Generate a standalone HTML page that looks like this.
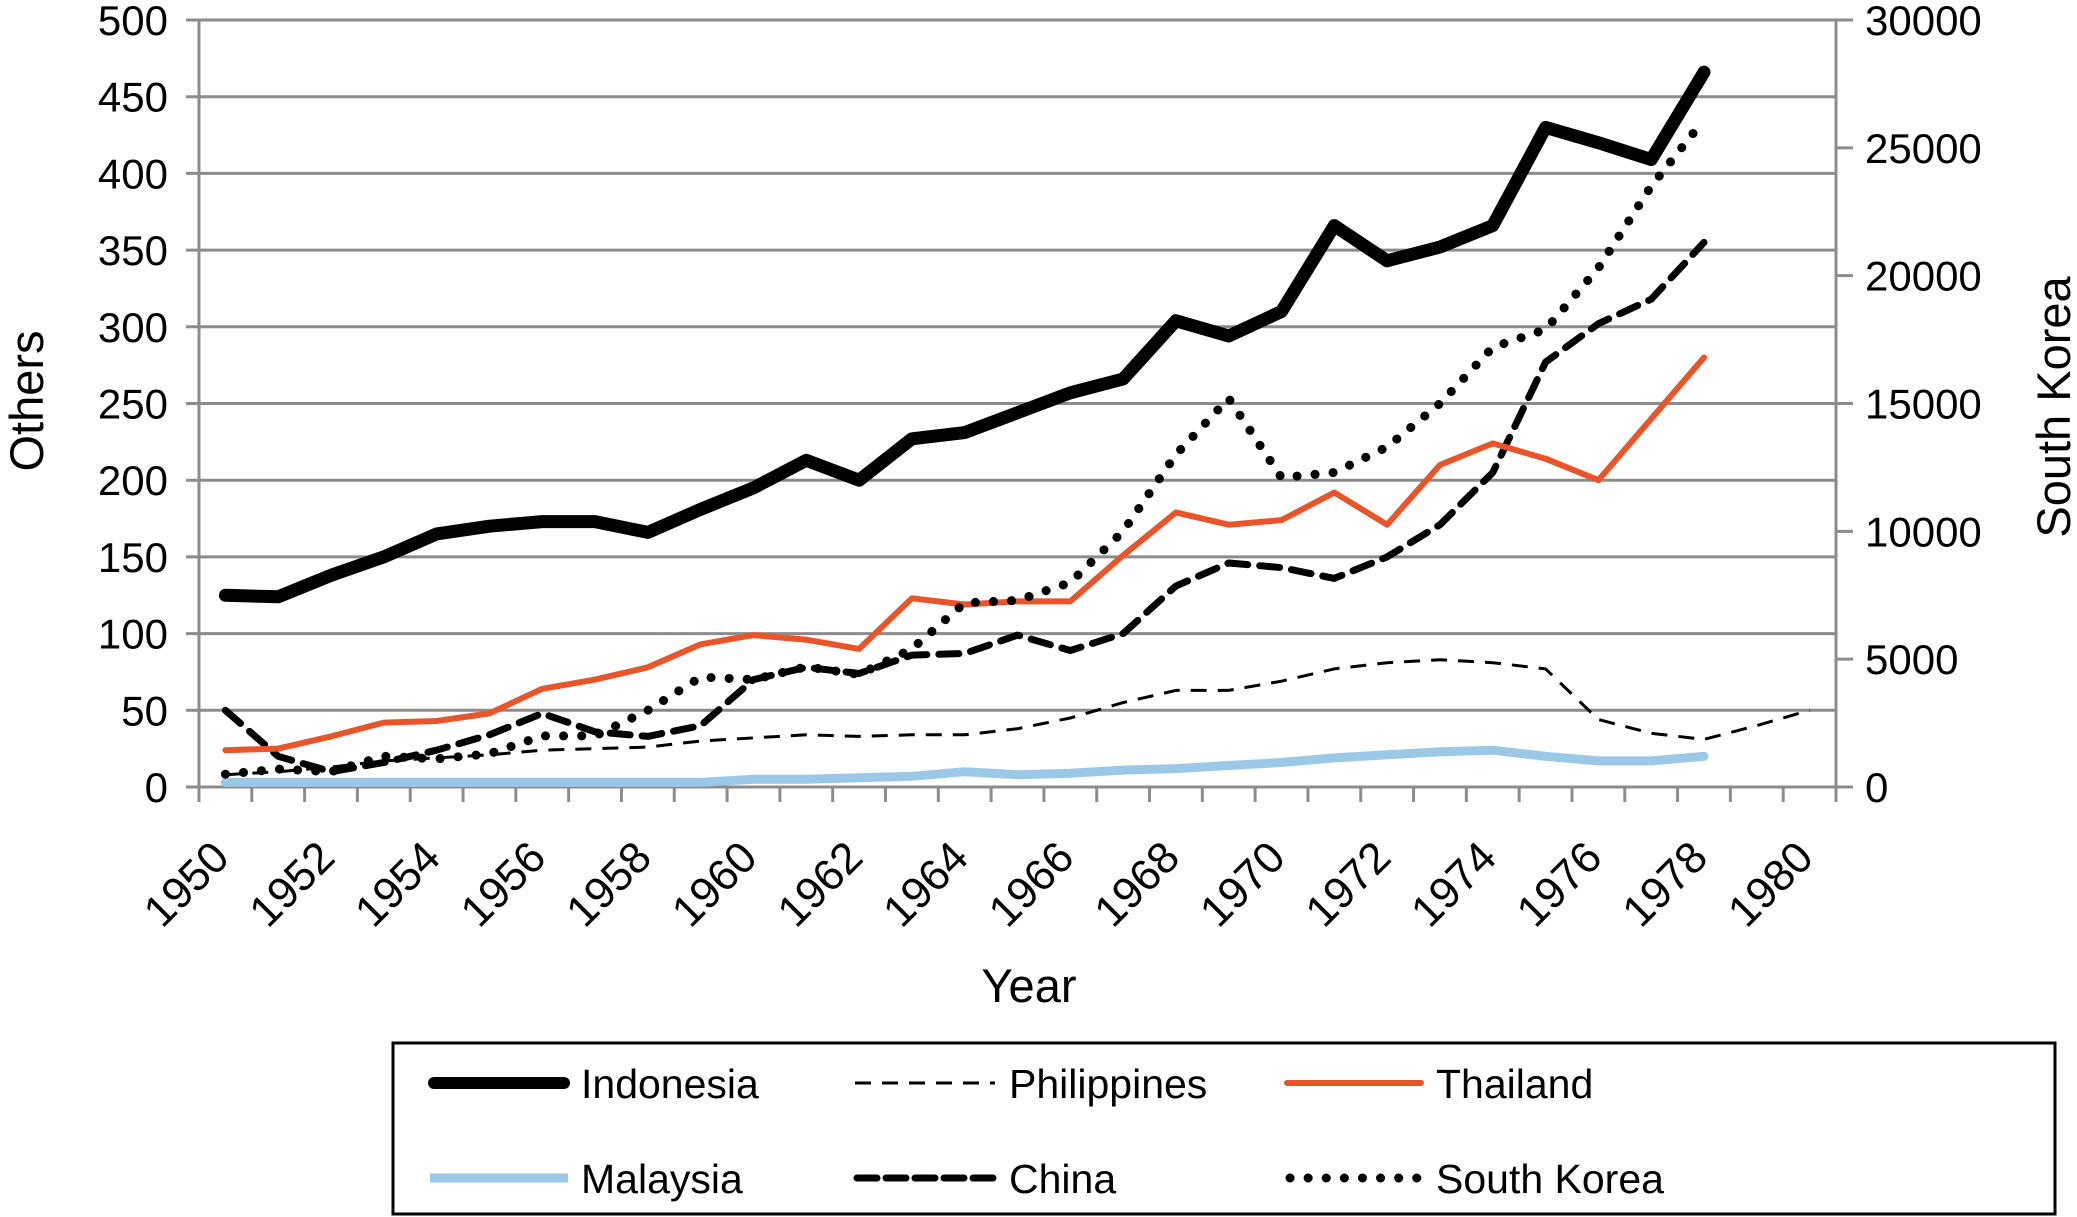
<!DOCTYPE html>
<html><head><meta charset="utf-8"><style>
html,body{margin:0;padding:0;background:#fff;}
svg{display:block;font-family:"Liberation Sans",sans-serif;}
</style></head><body>
<svg id="chart" width="2077" height="1217" viewBox="0 0 2077 1217" xmlns="http://www.w3.org/2000/svg">
<g id="grid"></g>
<g id="axes"></g>
<g id="series"></g>
<text x="0" y="0" font-size="47" text-anchor="middle" transform="translate(43,401) rotate(-90)">Others</text>
<text x="0" y="0" font-size="47" text-anchor="middle" transform="translate(2070,407) rotate(-90)">South Korea</text>
<text x="1029" y="1002" font-size="47" text-anchor="middle">Year</text>
<g>
<rect x="393" y="1043" width="1662" height="171" fill="none" stroke="#000" stroke-width="3"/>
<g><line x1="434" y1="1083" x2="564" y2="1083" stroke="#000" stroke-width="12" stroke-linecap="round"/><text x="581" y="1098" font-size="41">Indonesia</text></g>
<g><line x1="855" y1="1083" x2="995" y2="1083" stroke="#000" stroke-width="3" stroke-dasharray="16,11"/><text x="1009" y="1098" font-size="41">Philippines</text></g>
<g><line x1="1287" y1="1083" x2="1421" y2="1083" stroke="#e8552b" stroke-width="6" stroke-linecap="round"/><text x="1436" y="1098" font-size="41">Thailand</text></g>
<g><line x1="430" y1="1178" x2="568" y2="1178" stroke="#9cc8e8" stroke-width="9"/><text x="581" y="1193" font-size="41">Malaysia</text></g>
<g><line x1="857" y1="1178" x2="993" y2="1178" stroke="#000" stroke-width="7" stroke-dasharray="20,9" stroke-linecap="round"/><text x="1009" y="1193" font-size="41">China</text></g>
<g><line x1="1290" y1="1178" x2="1420" y2="1178" stroke="#000" stroke-width="9" stroke-dasharray="0.1,18" stroke-linecap="round"/><text x="1436" y="1193" font-size="41">South Korea</text></g>
</g>
</svg>
<script>
const years = [];
for (let y = 1950; y <= 1980; y++) years.push(y);
const leftTicks = [0,50,100,150,200,250,300,350,400,450,500];
const rightTicks = [0,5000,10000,15000,20000,25000,30000];
const xTickLabels = [1950,1952,1954,1956,1958,1960,1962,1964,1966,1968,1970,1972,1974,1976,1978,1980];
const indonesia = [125,124,138,150,165,170,173,173,166,181,195,213,200,227,231,244,257,266,304,294,310,366,343,352,366,430,420,409,466];
const thailand = [24,25,33,42,43,48,64,70,78,93,99,96,90,123,119,121,121,151,179,171,174,192,171,210,224,214,200,240,280];
const malaysia = [3,3,3,3,3,3,3,3,3,3,5,5,6,7,10,8,9,11,12,14,16,19,21,23,24,20,17,17,20];
const philippines = [8,10,13,17,19,21,24,25,26,30,32,34,33,34,34,38,45,55,63,63,69,77,81,83,81,77,44,35,31,40,50];
const china = [50,20,10,16,24,34,48,36,33,40,70,78,74,86,87,99,89,100,131,146,143,136,150,171,205,277,302,318,355];
const southKorea = [500,700,600,1200,1100,1300,2000,2000,3000,4300,4200,4700,4400,5400,7200,7300,8000,10000,13000,15200,12100,12300,13300,15000,17200,17900,20300,23500,26100];

const NS = "http://www.w3.org/2000/svg";
const L = 199, R = 1836, T = 20, B = 787;
const cw = (R - L) / years.length;
const x = i => L + cw * (i + 0.5);
const yL = v => B - (v / 500) * (B - T);
const yR = v => B - (v / 30000) * (B - T);
function mk(tag, attrs, parent) {
  const e = document.createElementNS(NS, tag);
  for (const k in attrs) e.setAttribute(k, attrs[k]);
  parent.appendChild(e);
  return e;
}
const grid = document.getElementById('grid');
const axes = document.getElementById('axes');
const series = document.getElementById('series');
const G = "#8c8c8c";
leftTicks.forEach(v => {
  const ln = mk('line', {x1: 186, x2: R, y1: yL(v), y2: yL(v), stroke: G, 'stroke-width': 3}, grid);
  
  
  const t = mk('text', {x: 168, y: yL(v) + 15, 'font-size': 42, 'text-anchor': 'end'}, axes);
  t.textContent = v;
  
  
});
mk('line', {x1: L, x2: L, y1: T, y2: B + 15, stroke: G, 'stroke-width': 3}, axes);
mk('line', {x1: R, x2: R, y1: T, y2: B + 15, stroke: G, 'stroke-width': 3}, axes);
rightTicks.forEach(v => {
  mk('line', {x1: R, x2: R + 17, y1: yR(v), y2: yR(v), stroke: G, 'stroke-width': 3}, axes);
  const t = mk('text', {x: 1865, y: yR(v) + 15, 'font-size': 42}, axes);
  t.textContent = v;
  
  
});
for (let i = 0; i <= years.length; i++) {
  mk('line', {x1: L + cw * i, x2: L + cw * i, y1: B, y2: B + 15, stroke: G, 'stroke-width': 3}, axes);
}
xTickLabels.forEach(yr => {
  const i = years.indexOf(yr);
  const cx = x(i) + 6, cy = 860;
  const t = mk('text', {x: 0, y: 0, 'font-size': 44, 'text-anchor': 'end', transform: `translate(${cx},${cy}) rotate(-45)`}, axes);
  t.textContent = yr;
  
  
});
function path(data, yf, attrs, name) {
  const d = data.map((v, i) => (i ? 'L' : 'M') + x(i).toFixed(1) + ',' + yf(v).toFixed(1)).join(' ');
  const p = mk('path', Object.assign({d: d, fill: 'none', 'stroke-linejoin': 'round'}, attrs), series);
  
  
}
path(malaysia, yL, {stroke: '#9cc8e8', 'stroke-width': 9, 'stroke-linecap': 'round'}, 'malaysia-line');
path(philippines, yL, {stroke: '#000', 'stroke-width': 3, 'stroke-dasharray': '16,11'}, 'philippines-line');
path(china, yL, {stroke: '#000', 'stroke-width': 7, 'stroke-dasharray': '20,12', 'stroke-linecap': 'round'}, 'china-line');
path(thailand, yL, {stroke: '#e8552b', 'stroke-width': 6, 'stroke-linecap': 'round'}, 'thailand-line');
path(southKorea, yR, {stroke: '#000', 'stroke-width': 9, 'stroke-dasharray': '0.1,18', 'stroke-linecap': 'round'}, 'south-korea-line');
path(indonesia, yL, {stroke: '#000', 'stroke-width': 13, 'stroke-linecap': 'round'}, 'indonesia-line');
</script>
</body></html>
